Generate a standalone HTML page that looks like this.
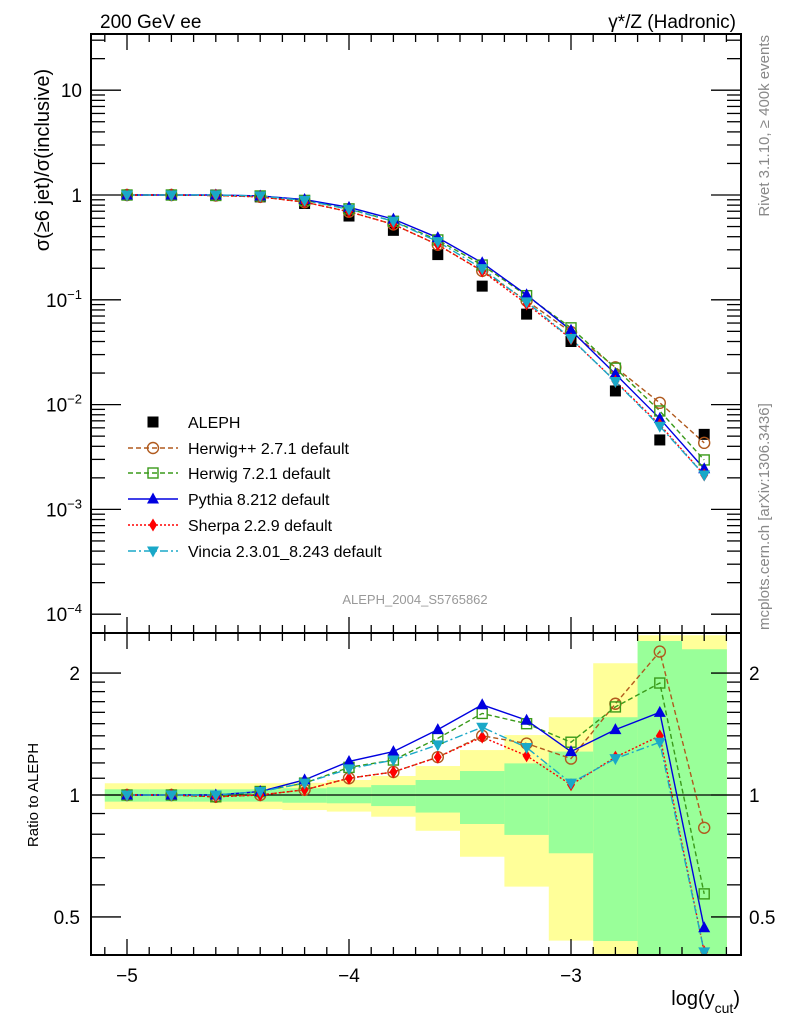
<!DOCTYPE html>
<html><head><meta charset="utf-8"><style>
html,body{margin:0;padding:0;background:#fff;width:786px;height:1024px;overflow:hidden;position:relative}
svg{position:absolute;left:0;top:0;display:block;font-family:"Liberation Sans",sans-serif;overflow:hidden}
</style></head><body>
<svg id="c" width="786" height="1024" viewBox="0 0 786 1024" xmlns="http://www.w3.org/2000/svg">
<defs>
<clipPath id="cm"><rect x="91" y="34" width="650" height="599"/></clipPath>
<clipPath id="cr"><rect x="91" y="633" width="650" height="322"/></clipPath>
</defs>
<g id="bands" clip-path="url(#cr)"></g>
<g id="ticks"></g>
<g id="series"></g>
<rect x="91" y="34" width="650" height="599" fill="none" stroke="#000" stroke-width="2"/>
<rect x="91" y="633" width="650" height="322" fill="none" stroke="#000" stroke-width="2"/>
<text x="100" y="28" font-size="19">200 GeV ee</text>
<text x="736" y="28" font-size="19" text-anchor="end">γ*/Z (Hadronic)</text>
<text transform="translate(769,35) rotate(-90)" font-size="15" fill="#888" text-anchor="end">Rivet 3.1.10, ≥ 400k events</text>
<text transform="translate(769,630) rotate(-90)" font-size="15" fill="#888">mcplots.cern.ch [arXiv:1306.3436]</text>
<text transform="translate(49,160) rotate(-90)" font-size="20" text-anchor="middle">σ(≥6 jet)/σ(inclusive)</text>
<text transform="translate(38,795) rotate(-90)" font-size="15" text-anchor="middle">Ratio to ALEPH</text>
<text x="415" y="604" font-size="13" fill="#999" text-anchor="middle">ALEPH_2004_S5765862</text>
<text x="740" y="1005" font-size="20" text-anchor="end">log(y<tspan font-size="14" dy="8">cut</tspan><tspan dy="-8">)</tspan></text>
<g id="legend"></g>
</svg>
<script>
const xs = [-5,-4.8,-4.6,-4.4,-4.2,-4.0,-3.8,-3.6,-3.4,-3.2,-3.0,-2.8,-2.6,-2.4];
const aleph = [1,1,1,0.96,0.83,0.63,0.46,0.27,0.135,0.073,0.04,0.0135,0.0046,0.0052];
const rHerwigpp = [1,1,0.99,1,1.03,1.10,1.14,1.24,1.40,1.34,1.23,1.68,2.26,0.83];
const rHerwig7 = [1,1,0.99,1.02,1.07,1.17,1.22,1.38,1.59,1.50,1.35,1.65,1.89,0.57];
const rPythia = [1,1,1,1.02,1.09,1.21,1.28,1.45,1.67,1.53,1.28,1.45,1.60,0.47];
const rSherpa = [1,1,0.99,1,1.03,1.10,1.14,1.24,1.39,1.25,1.06,1.24,1.40,0.41];
const rVincia = [1,1,1,1.02,1.07,1.16,1.22,1.33,1.47,1.31,1.07,1.23,1.35,0.41];
const yelUp = [1.069,1.069,1.069,1.069,1.072,1.089,1.114,1.179,1.291,1.406,1.556,2.115,2.48,2.48];
const yelLo = [0.923,0.923,0.923,0.923,0.918,0.910,0.884,0.816,0.704,0.594,0.437,0.1,0.1,0.1];
const grnUp = [1.033,1.033,1.033,1.033,1.039,1.045,1.058,1.089,1.146,1.197,1.280,1.556,2.40,2.29];
const grnLo = [0.963,0.963,0.963,0.963,0.957,0.954,0.939,0.905,0.848,0.797,0.718,0.436,0.1,0.1];
const xTicks = [-5,-4,-3];
const mainTicks = [10,1,0.1,0.01,0.001,0.0001];
const mainTickLabels = ["10","1","10<sup>−1</sup>","10<sup>−2</sup>","10<sup>−3</sup>","10<sup>−4</sup>"];
const ratioTicks = [2,1,0.5];
const ratioTickLabels = ["2","1","0.5"];

const NS="http://www.w3.org/2000/svg";
const X = v => 127 + (v+5)*222;
const Y = v => 195 - Math.log10(v)*104.8;
const R = v => 795 - Math.log10(v)*405;
function mk(tag, attrs, parent){const e=document.createElementNS(NS,tag);for(const k in attrs)e.setAttribute(k,attrs[k]);parent.appendChild(e);return e;}

const bands=document.getElementById('bands');
xs.forEach((x,i)=>{
  const x0=X(x-0.1), x1=X(x+0.1);
  const yl=Math.min(R(yelLo[i]),960), gl=Math.min(R(grnLo[i]),960);
  const y=mk('rect',{x:x0,y:R(yelUp[i]),width:x1-x0+0.5,height:yl-R(yelUp[i]),fill:'#ffff99'},bands);
  
  
  const g=mk('rect',{x:x0,y:R(grnUp[i]),width:x1-x0+0.5,height:gl-R(grnUp[i]),fill:'#99ff99'},bands);
  
  
});
mk('line',{x1:91,x2:741,y1:R(1),y2:R(1),stroke:'#000','stroke-width':1.3},bands);

const tk=document.getElementById('ticks');
function ln(x1,y1,x2,y2){mk('line',{x1,y1,x2,y2,stroke:'#000','stroke-width':1.3},tk);}
for(let k=-51;k<=-23;k++){const v=k/10,x=X(v);if(x<92||x>740)continue;const maj=(k%10===0);const L=maj?16:8;
  ln(x,34,x,34+L);ln(x,633,x,633-L);ln(x,633,x,633+L);ln(x,955,x,955-L);}
xTicks.forEach(v=>{const t=mk('text',{x:X(v),y:982,'font-size':19,'text-anchor':'middle'},tk);t.textContent=(v<0?'−':'')+Math.abs(v);
  
  });
for(let d=-4;d<=1;d++){for(let m=1;m<10;m++){const v=m*Math.pow(10,d);const y=Y(v);if(y<35||y>632)continue;const L=m===1?30:14;ln(91,y,91+L,y);ln(741,y,741-L,y);}}
mainTicks.forEach((v,i)=>{const t=mk('text',{x:82,y:Y(v)+7,'font-size':19,'text-anchor':'end'},tk);
  t.innerHTML=mainTickLabels[i].replace('<sup>','<tspan font-size="13" dy="-8">').replace('</sup>','</tspan>');
  
  });
[0.5,0.6,0.7,0.8,0.9,1,1.1,1.2,1.3,1.4,1.5,1.6,1.7,1.8,1.9,2].forEach(v=>{const y=R(v);const maj=(v===0.5||v===1||v===2);const L=maj?30:14;ln(91,y,91+L,y);ln(741,y,741-L,y);});
ratioTicks.forEach((v,i)=>{
  const t=mk('text',{x:80,y:R(v)+7,'font-size':19,'text-anchor':'end'},tk);t.textContent=ratioTickLabels[i];
  
  
  const t2=mk('text',{x:749,y:R(v)+7,'font-size':19},tk);t2.textContent=ratioTickLabels[i];
  
  });

function marker(type,x,y,col,p){
  let e;
  if(type==='sq') e=mk('rect',{x:x-5.5,y:y-5.5,width:11,height:11,fill:'#000'},p);
  else if(type==='circ') e=mk('circle',{cx:x,cy:y,r:5.5,fill:'none',stroke:col,'stroke-width':1.4},p);
  else if(type==='osq') e=mk('rect',{x:x-5,y:y-5,width:10,height:10,fill:'none',stroke:col,'stroke-width':1.4},p);
  else if(type==='tri') e=mk('path',{d:`M${x},${y-6.5}L${x+6},${y+4.5}L${x-6},${y+4.5}Z`,fill:col},p);
  else if(type==='dia') e=mk('path',{d:`M${x},${y-6.5}L${x+4},${y}L${x},${y+6.5}L${x-4},${y}Z`,fill:col},p);
  else if(type==='itri') e=mk('path',{d:`M${x},${y+6.5}L${x+6},${y-4.5}L${x-6},${y-4.5}Z`,fill:col},p);
  return e;
}
const series=[
  {name:'Herwig++ 2.7.1 default',r:rHerwigpp,col:'#b05a1e',dash:'5,3',m:'circ',id:'herwigpp'},
  {name:'Herwig 7.2.1 default',r:rHerwig7,col:'#3a9a1a',dash:'5,3',m:'osq',id:'herwig7'},
  {name:'Pythia 8.212 default',r:rPythia,col:'#0000e0',dash:'',m:'tri',id:'pythia'},
  {name:'Sherpa 2.2.9 default',r:rSherpa,col:'#ff0000',dash:'2,2',m:'dia',id:'sherpa'},
  {name:'Vincia 2.3.01_8.243 default',r:rVincia,col:'#1aa8c8',dash:'8,3,2,3',m:'itri',id:'vincia'}
];
const sg=document.getElementById('series');
const gm=mk('g',{'clip-path':'url(#cm)'},sg);
const gr=mk('g',{'clip-path':'url(#cr)'},sg);
series.forEach(s=>{
  const ptsM=xs.map((x,i)=>X(x)+','+Y(aleph[i]*s.r[i])).join(' ');
  const ptsR=xs.map((x,i)=>X(x)+','+R(s.r[i])).join(' ');
  const l1=mk('polyline',{points:ptsM,fill:'none',stroke:s.col,'stroke-width':1.4,'stroke-dasharray':s.dash},gm);
  
  
  const l2=mk('polyline',{points:ptsR,fill:'none',stroke:s.col,'stroke-width':1.4,'stroke-dasharray':s.dash},gr);
  
  
});
xs.forEach((x,i)=>{const e=marker('sq',X(x),Y(aleph[i]),'#000',gm);
  
  });
series.forEach(s=>{xs.forEach((x,i)=>{
  const a=marker(s.m,X(x),Y(aleph[i]*s.r[i]),s.col,gm);
  
  
  const b=marker(s.m,X(x),R(s.r[i]),s.col,gr);
  
  
});});

const lg=document.getElementById('legend');
const rows=[422,448,473,499,525,551];
marker('sq',153,rows[0],'#000',lg);
let t=mk('text',{x:188,y:rows[0]+6,'font-size':16},lg);t.textContent='ALEPH';


series.forEach((s,i)=>{const y=rows[i+1];
  mk('line',{x1:128,x2:178,y1:y,y2:y,stroke:s.col,'stroke-width':1.4,'stroke-dasharray':s.dash},lg);
  marker(s.m,153,y,s.col,lg);
  const tt=mk('text',{x:188,y:y+6,'font-size':16},lg);tt.textContent=s.name;
  
  
});
</script>
</body></html>
